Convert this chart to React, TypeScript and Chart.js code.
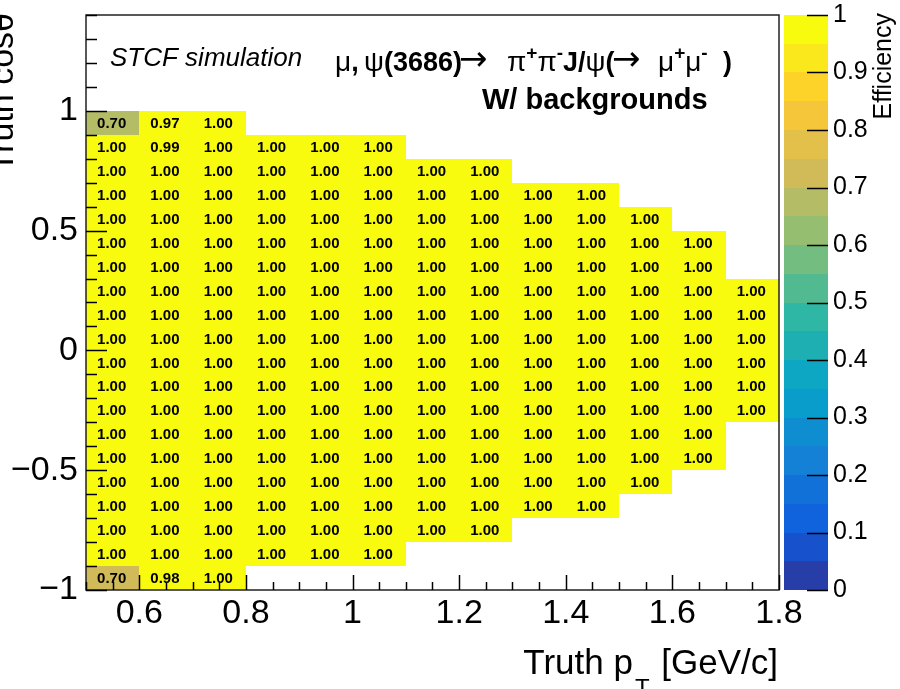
import React, { useEffect, useRef } from "react";
import { Chart, registerables } from "chart.js";

Chart.register(...registerables);

// ---------------- data ----------------
// pT bin lower edges [GeV/c]
const ptBinLow = [0.5, 0.6, 0.7, 0.8, 0.9, 1.0, 1.1, 1.2, 1.3, 1.4, 1.5, 1.6, 1.7];
const ptBinWidth = 0.1;
// cos(theta) bin lower edges, top row first
const cosBinLow = [0.9, 0.8, 0.7, 0.6, 0.5, 0.4, 0.3, 0.2, 0.1, 0.0, -0.1, -0.2, -0.3, -0.4, -0.5, -0.6, -0.7, -0.8, -0.9, -1.0];
const cosBinWidth = 0.1;

// efficiency per cos(theta) row (same order as cosBinLow), from the first pT bin on
const efficiency: number[][] = [
  [0.696, 0.97, 1.0],
  [1.0, 0.99, 1.0, 1.0, 1.0, 1.0],
  [1.0, 1.0, 1.0, 1.0, 1.0, 1.0, 1.0, 1.0],
  [1.0, 1.0, 1.0, 1.0, 1.0, 1.0, 1.0, 1.0, 1.0, 1.0],
  [1.0, 1.0, 1.0, 1.0, 1.0, 1.0, 1.0, 1.0, 1.0, 1.0, 1.0],
  [1.0, 1.0, 1.0, 1.0, 1.0, 1.0, 1.0, 1.0, 1.0, 1.0, 1.0, 1.0],
  [1.0, 1.0, 1.0, 1.0, 1.0, 1.0, 1.0, 1.0, 1.0, 1.0, 1.0, 1.0],
  [1.0, 1.0, 1.0, 1.0, 1.0, 1.0, 1.0, 1.0, 1.0, 1.0, 1.0, 1.0, 1.0],
  [1.0, 1.0, 1.0, 1.0, 1.0, 1.0, 1.0, 1.0, 1.0, 1.0, 1.0, 1.0, 1.0],
  [1.0, 1.0, 1.0, 1.0, 1.0, 1.0, 1.0, 1.0, 1.0, 1.0, 1.0, 1.0, 1.0],
  [1.0, 1.0, 1.0, 1.0, 1.0, 1.0, 1.0, 1.0, 1.0, 1.0, 1.0, 1.0, 1.0],
  [1.0, 1.0, 1.0, 1.0, 1.0, 1.0, 1.0, 1.0, 1.0, 1.0, 1.0, 1.0, 1.0],
  [1.0, 1.0, 1.0, 1.0, 1.0, 1.0, 1.0, 1.0, 1.0, 1.0, 1.0, 1.0, 1.0],
  [1.0, 1.0, 1.0, 1.0, 1.0, 1.0, 1.0, 1.0, 1.0, 1.0, 1.0, 1.0],
  [1.0, 1.0, 1.0, 1.0, 1.0, 1.0, 1.0, 1.0, 1.0, 1.0, 1.0, 1.0],
  [1.0, 1.0, 1.0, 1.0, 1.0, 1.0, 1.0, 1.0, 1.0, 1.0, 1.0],
  [1.0, 1.0, 1.0, 1.0, 1.0, 1.0, 1.0, 1.0, 1.0, 1.0],
  [1.0, 1.0, 1.0, 1.0, 1.0, 1.0, 1.0, 1.0],
  [1.0, 1.0, 1.0, 1.0, 1.0, 1.0],
  [0.704, 0.98, 1.0],
];

// axis ticks
const xTickValues = [0.6, 0.8, 1.0, 1.2, 1.4, 1.6, 1.8];
const xTickLabels = ["0.6", "0.8", "1", "1.2", "1.4", "1.6", "1.8"];
const yTickValues = [-1, -0.5, 0, 0.5, 1];
const yTickLabels = ["\u22121", "\u22120.5", "0", "0.5", "1"];
const zTickValues = [0, 0.1, 0.2, 0.3, 0.4, 0.5, 0.6, 0.7, 0.8, 0.9, 1];
const zTickLabels = ["0", "0.1", "0.2", "0.3", "0.4", "0.5", "0.6", "0.7", "0.8", "0.9", "1"];
const nContours = 20;

// ---------------- styling ----------------
const FONT = '"Liberation Sans", Arial, Helvetica, sans-serif';

// ROOT kBird palette
const birdStops = [0.0, 0.125, 0.25, 0.375, 0.5, 0.625, 0.75, 0.875, 1.0];
const birdR = [0.2082, 0.0592, 0.078, 0.0232, 0.1802, 0.5301, 0.8186, 0.9956, 0.9764];
const birdG = [0.1664, 0.3599, 0.5041, 0.6419, 0.7178, 0.7492, 0.7328, 0.7862, 0.9832];
const birdB = [0.5293, 0.8684, 0.8385, 0.7914, 0.6425, 0.4662, 0.3499, 0.1968, 0.0539];

function bird(t: number): string {
  let i = 0;
  while (i < birdStops.length - 2 && t > birdStops[i + 1]) i++;
  const f = (t - birdStops[i]) / (birdStops[i + 1] - birdStops[i]);
  const c = (a: number[]) => Math.round(255 * (a[i] + f * (a[i + 1] - a[i])));
  return `rgb(${c(birdR)},${c(birdG)},${c(birdB)})`;
}

function bandColor(band: number): string {
  const idx = Math.floor(((band + 0.99) * 255) / nContours);
  return bird(Math.min(idx, 254) / 254);
}

function colorFor(v: number): string {
  const band = Math.min(nContours - 1, Math.max(0, Math.floor(v * nContours + 1e-9)));
  return bandColor(band);
}

// cells built from the arrays
const cells: { x: number; y: number; v: number }[] = [];
cosBinLow.forEach((yl, r) => {
  efficiency[r].forEach((v, c) => {
    cells.push({ x: ptBinLow[c] + ptBinWidth / 2, y: yl + cosBinWidth / 2, v });
  });
});

type Seg = [string, "sym" | "bold" | "sup" | "arrow"];
const formulaGroups: { x: number; segs: Seg[] }[] = [
  { x: 335, segs: [["\u03bc", "sym"], [",", "bold"]] },
  { x: 364, segs: [["\u03c8", "sym"], ["(3686)", "bold"]] },
  { x: 459, segs: [["\u2192", "arrow"]] },
  { x: 507, segs: [["\u03c0", "sym"], ["+", "sup"], ["\u03c0", "sym"], ["-", "sup"], ["J", "bold"], ["/", "bold"], ["\u03c8", "sym"], ["(", "bold"]] },
  { x: 612, segs: [["\u2192", "arrow"]] },
  { x: 658, segs: [["\u03bc", "sym"], ["+", "sup"], ["\u03bc", "sym"], ["-", "sup"]] },
  { x: 723, segs: [[")", "bold"]] },
];

const heatmapPlugin = {
  id: "rootHeatmap",
  beforeDatasetsDraw(chart: any) {
    const { ctx } = chart;
    const xs = chart.scales.x;
    const ys = chart.scales.y;
    const data = chart.data.datasets[0].data as { x: number; y: number; v: number }[];
    ctx.save();
    data.forEach((d) => {
      const x0 = Math.round(xs.getPixelForValue(d.x - ptBinWidth / 2));
      const x1 = Math.round(xs.getPixelForValue(d.x + ptBinWidth / 2));
      const y0 = Math.round(ys.getPixelForValue(d.y + cosBinWidth / 2));
      const y1 = Math.round(ys.getPixelForValue(d.y - cosBinWidth / 2));
      ctx.fillStyle = colorFor(d.v);
      ctx.fillRect(x0, y0, x1 - x0, y1 - y0);
    });
    ctx.fillStyle = "#000";
    ctx.font = `bold 15px ${FONT}`;
    ctx.textAlign = "center";
    ctx.textBaseline = "middle";
    data.forEach((d) => {
      ctx.fillText(d.v.toFixed(2), xs.getPixelForValue(d.x) - 1, ys.getPixelForValue(d.y) + 1);
    });
    ctx.restore();
  },
  afterDraw(chart: any) {
    const { ctx, chartArea } = chart;
    const xs = chart.scales.x;
    const ys = chart.scales.y;
    const zs = chart.scales.z;
    const { left, right, top, bottom } = chartArea;
    ctx.save();

    // colour bar
    const cbL = zs.left + 5;
    const cbR = zs.left + 49;
    for (let b = 0; b < nContours; b++) {
      const ya = Math.round(zs.getPixelForValue((b + 1) / nContours));
      const yb = Math.round(zs.getPixelForValue(b / nContours));
      ctx.fillStyle = bandColor(b);
      ctx.fillRect(cbL, ya, cbR - cbL, yb - ya);
    }
    ctx.strokeStyle = "#000";
    ctx.lineWidth = 1.5;
    zTickValues.forEach((v) => {
      const py = Math.round(zs.getPixelForValue(v)) + 0.5;
      ctx.beginPath();
      ctx.moveTo(cbR, py);
      ctx.lineTo(cbR - 21, py);
      ctx.stroke();
    });

    // frame
    ctx.strokeStyle = "#222";
    ctx.lineWidth = 1.5;
    ctx.strokeRect(left, top, right - left, bottom - top);

    // axis ticks (inside)
    ctx.strokeStyle = "#000";
    ctx.lineWidth = 1.5;
    for (let k = 0; k <= 26; k++) {
      const v = 0.5 + k * 0.05;
      const major = xTickValues.some((t) => Math.abs(t - v) < 1e-6);
      const px = Math.round(xs.getPixelForValue(v)) + 0.5;
      ctx.beginPath();
      ctx.moveTo(px, bottom);
      ctx.lineTo(px, bottom - (major ? 15 : 8));
      ctx.stroke();
    }
    for (let k = 0; k <= 24; k++) {
      const v = -1 + k * 0.1;
      const major = yTickValues.some((t) => Math.abs(t - v) < 1e-6);
      const py = Math.round(ys.getPixelForValue(v)) + 0.5;
      ctx.beginPath();
      ctx.moveTo(left, py);
      ctx.lineTo(left + (major ? 21 : 11), py);
      ctx.stroke();
    }

    // texts
    ctx.fillStyle = "#000";
    ctx.textBaseline = "alphabetic";
    ctx.textAlign = "left";
    ctx.font = `italic 26px ${FONT}`;
    ctx.fillText("STCF simulation", 110, 66);

    formulaGroups.forEach((g) => {
      let x = g.x;
      g.segs.forEach(([t, kind]) => {
        let dy = 0;
        if (kind === "sym") ctx.font = `28px ${FONT}`;
        else if (kind === "bold") ctx.font = `bold 27px ${FONT}`;
        else if (kind === "arrow") {
          ctx.font = `34px "DejaVu Sans", ${FONT}`;
          dy = -1;
        } else {
          ctx.font = `bold 19px ${FONT}`;
          dy = -12;
        }
        ctx.fillText(t, x, 71 + dy);
        x += ctx.measureText(t).width;
      });
    });

    ctx.font = `bold 29px ${FONT}`;
    ctx.fillText("W/ backgrounds", 482, 109);

    // x-axis title (right aligned to axis end)
    ctx.font = `35px ${FONT}`;
    const part1 = "Truth p";
    const part3 = " [GeV/c]";
    const w3 = ctx.measureText(part3).width;
    ctx.font = `24px ${FONT}`;
    const w2 = ctx.measureText("T").width;
    ctx.font = `35px ${FONT}`;
    const w1 = ctx.measureText(part1).width;
    const xEnd = right - 1;
    const xStart = xEnd - w3 - w2 - w1 - 4;
    ctx.fillText(part1, xStart, 674);
    ctx.font = `24px ${FONT}`;
    ctx.fillText("T", xStart + w1 + 2, 696);
    ctx.font = `35px ${FONT}`;
    ctx.fillText(part3, xStart + w1 + w2 + 4, 674);

    // y-axis title
    ctx.save();
    ctx.translate(13, top - 2);
    ctx.rotate(-Math.PI / 2);
    ctx.textAlign = "right";
    ctx.font = `34px ${FONT}`;
    ctx.fillText("Truth cos\u03b8", 0, 0);
    ctx.restore();

    // colour bar title
    ctx.save();
    ctx.translate(891, top - 2);
    ctx.rotate(-Math.PI / 2);
    ctx.textAlign = "right";
    ctx.font = `25px ${FONT}`;
    ctx.fillText("Efficiency", 0, 0);
    ctx.restore();

    ctx.restore();
  },
};

export default function App() {
  const canvasRef = useRef<HTMLCanvasElement | null>(null);

  useEffect(() => {
    const canvas = canvasRef.current;
    if (!canvas) return;
    const tickFont = (size: number) => ({ family: FONT, size, lineHeight: 1.2 });
    const chart = new Chart(canvas, {
      type: "scatter",
      data: {
        datasets: [
          {
            data: cells as any,
            pointRadius: 0,
            pointHoverRadius: 0,
            showLine: false,
          },
        ],
      },
      options: {
        animation: false,
        responsive: false,
        events: [],
        layout: { padding: { top: 15, left: 0, right: 0, bottom: 0 } },
        plugins: {
          legend: { display: false },
          tooltip: { enabled: false },
          title: { display: false },
        },
        scales: {
          x: {
            type: "linear",
            position: "bottom",
            min: 0.5,
            max: 1.8,
            grid: { display: false, drawTicks: false },
            border: { display: false },
            afterBuildTicks: (s: any) => {
              s.ticks = xTickValues.map((v) => ({ value: v }));
            },
            ticks: {
              autoSkip: false,
              maxRotation: 0,
              minRotation: 0,
              padding: 3,
              color: "#000",
              font: tickFont(34),
              callback: (_v: any, i: number) => xTickLabels[i],
            },
            afterFit: (s: any) => {
              s.height = 99;
              s.paddingLeft = 0;
              s.paddingRight = 0;
            },
          },
          y: {
            type: "linear",
            position: "left",
            min: -1,
            max: 1.4,
            grid: { display: false, drawTicks: false },
            border: { display: false },
            afterBuildTicks: (s: any) => {
              s.ticks = yTickValues.map((v) => ({ value: v }));
            },
            ticks: {
              autoSkip: false,
              padding: 8,
              color: "#000",
              font: tickFont(34),
              callback: (_v: any, i: number) => yTickLabels[i],
            },
            afterFit: (s: any) => {
              s.width = 86;
              s.paddingTop = 0;
              s.paddingBottom = 0;
            },
          },
          z: {
            type: "linear",
            position: "right",
            min: 0,
            max: 1,
            grid: { display: false, drawTicks: false },
            border: { display: false },
            afterBuildTicks: (s: any) => {
              s.ticks = zTickValues.map((v) => ({ value: v }));
            },
            ticks: {
              autoSkip: false,
              padding: 54,
              color: "#000",
              font: tickFont(25),
              callback: (_v: any, i: number) => zTickLabels[i],
            },
            afterFit: (s: any) => {
              s.width = 121;
              s.paddingTop = 0;
              s.paddingBottom = 0;
            },
          },
        },
      } as any,
      plugins: [heatmapPlugin],
    });
    return () => chart.destroy();
  }, []);

  return (
    <div style={{ position: "absolute", left: 0, top: 0, width: 900, height: 689, background: "#fff" }}>
      <canvas ref={canvasRef} width={900} height={689} style={{ display: "block", width: 900, height: 689 }} />
    </div>
  );
}
